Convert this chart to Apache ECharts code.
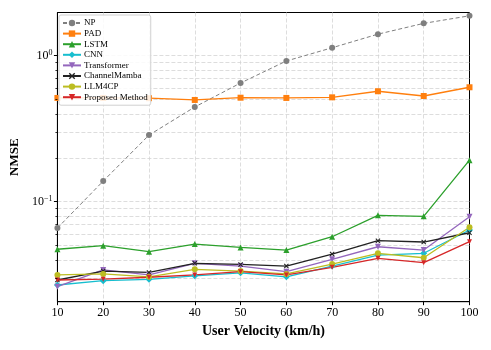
<!DOCTYPE html>
<html>
<head>
<meta charset="utf-8">
<script src="https://cdn.jsdelivr.net/npm/echarts@6/dist/echarts.min.js"></script>
<style>
  html, body { margin: 0; padding: 0; background: #fff; }
  #chart { width: 491px; height: 350px; }
</style>
</head>
<body>
<div id="chart"></div>
<script type="text/javascript">
  // speeds (km/h)
  var velocity = [10, 20, 30, 40, 50, 60, 70, 80, 90, 100];

  // NMSE
  var np          = [0.0658, 0.138, 0.285, 0.444, 0.648, 0.917, 1.13, 1.40, 1.66, 1.87];
  var pad         = [0.512, 0.512, 0.510, 0.496, 0.514, 0.512, 0.517, 0.569, 0.528, 0.606];
  var lstm        = [0.0471, 0.0498, 0.0453, 0.0511, 0.0485, 0.0465, 0.0574, 0.0804, 0.0792, 0.192];
  var cnn         = [0.0268, 0.0287, 0.0293, 0.0310, 0.0325, 0.0305, 0.0361, 0.0430, 0.0442, 0.0638];
  var transformer = [0.0261, 0.0340, 0.0314, 0.0377, 0.0361, 0.0331, 0.0402, 0.0490, 0.0465, 0.0787];
  var mamba       = [0.0290, 0.0334, 0.0327, 0.0377, 0.0371, 0.0361, 0.0437, 0.0539, 0.0528, 0.0611];
  var llm4cp      = [0.0314, 0.0319, 0.0305, 0.0343, 0.0334, 0.0319, 0.0373, 0.0442, 0.0412, 0.0666];
  var proposed    = [0.0290, 0.0294, 0.0303, 0.0314, 0.0331, 0.0314, 0.0354, 0.0408, 0.0381, 0.0531];

  // minor log ticks (matplotlib style)
  var minorTicks = [0.03, 0.04, 0.05, 0.06, 0.07, 0.08, 0.09, 0.2, 0.3, 0.4, 0.5, 0.6, 0.7, 0.8, 0.9];

  var serif = '"Liberation Serif", "DejaVu Serif", serif';
  var triDown = 'path://M0,0 L10,0 L5,9 Z';
  var xMark = 'path://M0,1.5 L1.5,0 L5,3.5 L8.5,0 L10,1.5 L6.5,5 L10,8.5 L8.5,10 L5,6.5 L1.5,10 L0,8.5 L3.5,5 Z';

  function pairs(ys) {
    return velocity.map(function (v, i) { return [v, ys[i]]; });
  }

  function line(name, ys, color, symbol, size, dashed) {
    return {
      name: name,
      type: 'line',
      data: pairs(ys),
      symbol: symbol,
      symbolSize: size,
      showSymbol: true,
      itemStyle: { color: color },
      lineStyle: { color: color, width: dashed ? 1 : 1.3, type: dashed ? [4, 2.5] : 'solid' },
      z: 3
    };
  }

  var gridLine = { show: true, showMinLine: false, showMaxLine: false,
                   lineStyle: { color: '#d4d4d4', type: [4, 2], width: 0.8 } };

  var myChart = echarts.init(document.getElementById('chart'), null, { renderer: 'canvas' });

  var option = {
    animation: false,
    textStyle: { fontFamily: serif },
    grid: {
      left: 57, right: 21.5, top: 12.5, bottom: 48.3,
      show: true, borderColor: '#000', borderWidth: 1, backgroundColor: 'transparent'
    },
    legend: {
      left: 59, top: 15,
      orient: 'vertical',
      itemWidth: 18, itemHeight: 8, itemGap: 0.6,
      padding: [3, 3, 3, 3],
      backgroundColor: 'rgba(255,255,255,0.85)',
      borderColor: '#d0d0d0', borderWidth: 1, borderRadius: 2,
      textStyle: { fontFamily: serif, fontSize: 9, lineHeight: 10, color: '#000', padding: [0, 0, 0, -2] },
      data: ['NP', 'PAD', 'LSTM', 'CNN', 'Transformer', 'ChannelMamba', 'LLM4CP', 'Proposed Method']
    },
    xAxis: {
      type: 'value',
      min: 10, max: 100, interval: 10,
      name: 'User Velocity (km/h)',
      nameLocation: 'middle', nameGap: 23,
      nameTextStyle: { fontFamily: serif, fontSize: 14, fontWeight: 'bold', color: '#000' },
      axisLine: { show: true, lineStyle: { color: '#000', width: 1 } },
      axisTick: { show: true, length: 3.5, lineStyle: { color: '#000' } },
      axisLabel: { fontFamily: serif, fontSize: 12, color: '#000', margin: 5 },
      splitLine: gridLine
    },
    yAxis: {
      type: 'log',
      logBase: 10,
      min: 0.0206, max: 1.97,
      name: 'NMSE',
      nameLocation: 'middle', nameGap: 31,
      nameTextStyle: { fontFamily: serif, fontSize: 13, fontWeight: 'bold', color: '#000' },
      axisLine: { show: true, lineStyle: { color: '#000', width: 1 } },
      axisTick: { show: true, length: 3.5, lineStyle: { color: '#000' } },
      axisLabel: {
        showMinLabel: false, showMaxLabel: false,
        margin: 5,
        formatter: function (v) {
          var e = Math.round(Math.log10(v));
          return '{b|10}{s|' + (e < 0 ? '\u2212' + (-e) : e) + '}';
        },
        rich: {
          b: { fontFamily: serif, fontSize: 12, color: '#000' },
          s: { fontFamily: serif, fontSize: 8, color: '#000', verticalAlign: 'top', padding: [0, 0, 6, 0] }
        }
      },
      splitLine: gridLine
    },
    series: [
      line('NP', np, '#7f7f7f', 'circle', 6, true),
      line('PAD', pad, '#ff7f0e', 'rect', 6, false),
      line('LSTM', lstm, '#2ca02c', 'triangle', 6, false),
      line('CNN', cnn, '#17becf', 'diamond', 7, false),
      line('Transformer', transformer, '#9467bd', triDown, 6, false),
      line('ChannelMamba', mamba, '#222222', xMark, 5, false),
      line('LLM4CP', llm4cp, '#bcbd22', 'circle', 6, false),
      line('Proposed Method', proposed, '#d62728', triDown, 5, false)
    ]
  };

  myChart.setOption(option);

  // minor gridlines + minor ticks, placed through the log axis
  var x0 = myChart.convertToPixel({ xAxisIndex: 0 }, 10);
  var x1 = myChart.convertToPixel({ xAxisIndex: 0 }, 100);
  var extra = [];
  minorTicks.forEach(function (v) {
    var y = Math.round(myChart.convertToPixel({ yAxisIndex: 0 }, v)) + 0.5;
    extra.push({
      type: 'line', silent: true, z: 0,
      shape: { x1: x0, y1: y, x2: x1, y2: y },
      style: { stroke: '#d4d4d4', lineWidth: 0.8, lineDash: [4, 2] }
    });
    extra.push({
      type: 'line', silent: true, z: 5,
      shape: { x1: x0 - 2, y1: y, x2: x0, y2: y },
      style: { stroke: '#000', lineWidth: 0.8 }
    });
  });
  myChart.setOption({ graphic: extra });
</script>
</body>
</html>
